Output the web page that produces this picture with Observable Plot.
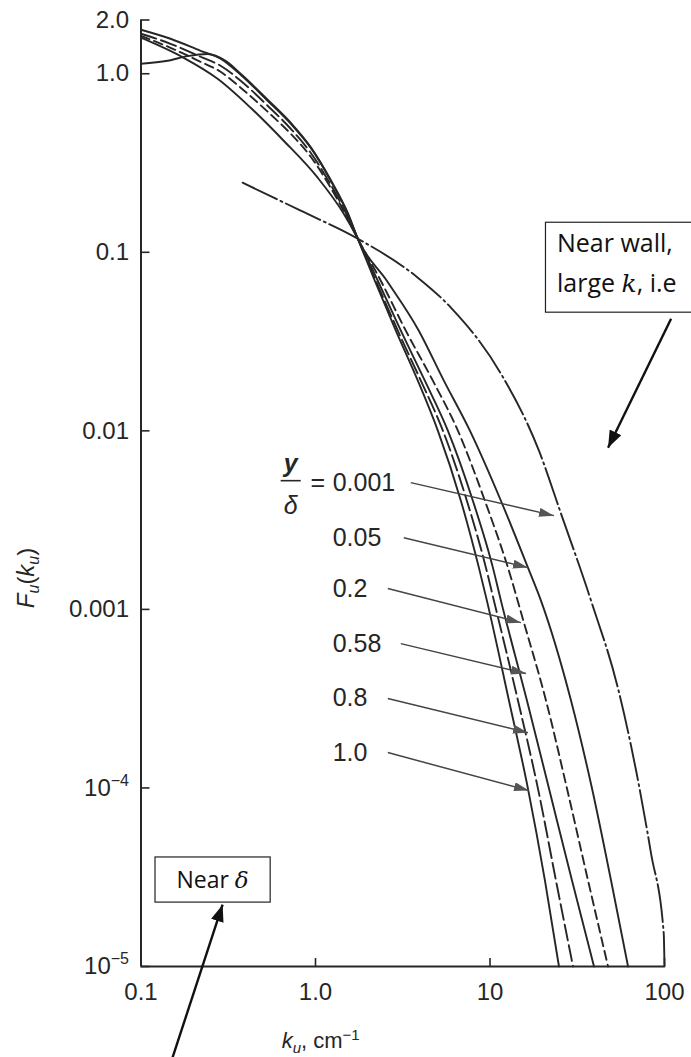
<!DOCTYPE html>
<html>
<head>
<meta charset="utf-8">
<script src="https://cdn.jsdelivr.net/npm/d3@7"></script>
<script src="https://cdn.jsdelivr.net/npm/@observablehq/plot@0.6"></script>
<style>
  body { margin: 0; background: #fff; }
  #chart svg { display: block; }
</style>
</head>
<body>
<div id="chart"></div>
<script>
// One-dimensional spectra F_u(k_u) of the streamwise velocity at several y/δ (log–log)

const xTicks = [0.1, 1, 10, 100];
const xTickLabels = ["0.1", "1.0", "10", "100"];
const yTicks = [2, 1, 0.1, 0.01, 0.001, 1e-4, 1e-5];
const yTickLabels = ["2.0", "1.0", "0.1", "0.01", "0.001", "10^−4", "10^−5"];

// y/δ = 1.0 (solid)
const k_100 = [0.1, 0.1476, 0.2194, 0.2858, 0.3724, 0.5318, 0.7207, 0.9386, 1.2224, 1.5306, 1.7465,
  2.187, 2.886, 3.858, 5.024, 6.809, 8.636, 9.599, 12.84, 16.50, 20.65, 24.85];
const F_100 = [1.764, 1.570, 1.345, 1.213, 0.987, 0.706, 0.525, 0.385, 0.2518, 0.1645, 0.1192,
  0.0693, 0.0364, 0.0191, 0.01003, 0.00406, 0.001714, 0.00112, 3.09e-4, 9.92e-5, 3.03e-5, 1.0e-5];

// y/δ = 0.8 (long dashes)
const k_080 = [0.1, 0.1476, 0.2194, 0.2858, 0.3724, 0.5318, 0.7207, 0.9386, 1.2224, 1.5306, 1.7465,
  2.216, 2.963, 4.014, 5.370, 7.371, 9.474, 10.53, 14.46, 18.83, 23.88, 29.90];
const F_080 = [1.675, 1.472, 1.245, 1.109, 0.914, 0.662, 0.492, 0.361, 0.239, 0.158, 0.1192,
  0.0693, 0.0364, 0.0191, 0.01003, 0.00406, 0.001714, 0.00112, 3.09e-4, 9.92e-5, 3.03e-5, 1.0e-5];

// y/δ = 0.58 (solid)
const k_058 = [0.1, 0.1753, 0.2748, 0.4249, 0.6571, 1.0295, 1.4517, 1.7465,
  2.275, 3.083, 4.232, 5.734, 7.978, 10.39, 11.55, 16.28, 21.78, 29.51, 39.46];
const F_058 = [1.591, 1.229, 0.937, 0.645, 0.4215, 0.2617, 0.1645, 0.1192,
  0.0693, 0.0364, 0.0191, 0.01003, 0.00406, 0.001714, 0.00112, 3.09e-4, 9.92e-5, 3.03e-5, 1.0e-5];

// y/δ = 0.2 (short dashes)
const k_020 = [0.1, 0.1476, 0.2194, 0.2858, 0.3724, 0.5318, 0.7207, 0.9386, 1.2224, 1.5306, 1.7465,
  2.367, 3.292, 4.704, 6.544, 9.348, 12.67, 15.65, 20.93, 27.62, 36.46, 47.48];
const F_020 = [1.632, 1.398, 1.167, 1.026, 0.835, 0.613, 0.4613, 0.343, 0.2300, 0.1542, 0.1192,
  0.0693, 0.0364, 0.0191, 0.01003, 0.00406, 0.001714, 8.43e-4, 3.09e-4, 9.92e-5, 3.03e-5, 1.0e-5];

// y/δ = 0.05 (solid)
const k_005 = [0.1, 0.1419, 0.1848, 0.2407, 0.3053, 0.3724, 0.5318, 0.7207, 0.9386, 1.2224, 1.5306, 1.7465,
  2.563, 3.909, 5.439, 7.669, 11.55, 16.50, 19.59, 29.12, 38.43, 49.40, 61.83];
const F_005 = [1.138, 1.182, 1.255, 1.290, 1.180, 1.000, 0.7160, 0.5320, 0.3880, 0.2540, 0.1660, 0.1192,
  0.0693, 0.0364, 0.0191, 0.01003, 0.00406, 0.001714, 0.00112, 3.09e-4, 9.92e-5, 3.03e-5, 1.0e-5];

// y/δ = 0.001 (dash-dot)
const k_0001 = [0.3823, 0.8226, 1.7465, 3.858, 5.967, 11.55, 19.08, 25.52, 37.93, 54.19, 68.73, 83.77, 99.0, 100];
const F_0001 = [0.2453, 0.171, 0.1192, 0.0721, 0.049, 0.0209, 0.00774, 0.00344, 0.00112, 3.6e-4, 1.252e-4, 4.29e-5, 1.53e-5, 1.0e-5];

// y/δ labels and the arrows from each label to its curve
const labelText = ["0.001", "0.05", "0.2", "0.58", "0.8", "1.0"];
const labelK = [1.255, 1.255, 1.255, 1.255, 1.255, 1.255];
const labelF = [0.00513, 0.00252, 0.001308, 6.43e-4, 3.17e-4, 1.578e-4];
const arrowFromK = [3.517, 3.206, 2.596, 3.083, 2.596, 2.596];
const arrowFromF = [0.00513, 0.00252, 0.001308, 6.43e-4, 3.17e-4, 1.578e-4];
const arrowToK = [23.26, 16.50, 15.04, 16.07, 16.50, 16.72];
const arrowToF = [0.003351, 0.001714, 8.43e-4, 4.37e-4, 2.04e-4, 9.67e-5];

// "y/δ =" fraction
const fracK = 0.7207, fracNumF = 0.00655, fracDenF = 0.003813, fracBarF = 0.00526;
const fracBarK = [0.6314, 0.8226];
const equalsK = 1.0295, equalsF = 0.00513;

// Call-out boxes
const wallBox = {x1: 20.93, x2: 170, y1: 0.0459, y2: 0.1464};
const wallLines = ["Near wall,", "large k, i.e"];
const wallLineK = [24.2, 24.2];
const wallLineF = [0.1117, 0.0667];
const wallArrow = {x1: 109.1, y1: 0.04249, x2: 47.48, y2: 0.00805};

const deltaBox = {x1: 0.1211, x2: 0.5534, y1: 2.28e-5, y2: 4.08e-5};
const deltaText = {x: 0.2572, y: 3.03e-5};
const deltaArrow = {x1: 0.1516, y1: 3.09e-6, x2: 0.2935, y2: 2.22e-5};

const xLabelPos = {x: 1.07, y: 3.85e-6};
const yLabelPos = {x: 0.0220, y: 0.00150};

const series = [
  {name: "1.0", k: k_100, F: F_100, dash: null},
  {name: "0.8", k: k_080, F: F_080, dash: "16,5"},
  {name: "0.58", k: k_058, F: F_058, dash: null},
  {name: "0.2", k: k_020, F: F_020, dash: "9,5"},
  {name: "0.05", k: k_005, F: F_005, dash: null},
  {name: "0.001", k: k_0001, F: F_0001, dash: "38,4,2,4"}
];

const ink = "#262626";
const W = 691, H = 1057;
const mL = 140.5, mR = 27, mT = 19.5, mB = 91;
const innerW = W - mL - mR, innerH = H - mT - mB;
const boxFont = "'Open Sans', Lato, sans-serif";

const lineMarks = series.map(s =>
  Plot.line(s.k.map((k, i) => ({k, F: s.F[i]})), {
    x: "k", y: "F", curve: "monotone-x",
    stroke: ink, strokeWidth: 1.9,
    strokeDasharray: s.dash || undefined
  })
);

const labelRows = labelText.map((t, i) => ({
  t, k: labelK[i], F: labelF[i],
  x1: arrowFromK[i], y1: arrowFromF[i], x2: arrowToK[i], y2: arrowToF[i]
}));

const svg = Plot.plot({
  width: W, height: H,
  marginLeft: mL, marginRight: mR, marginTop: mT, marginBottom: mB,
  style: {background: "#fff", fontFamily: "'Liberation Sans', Arial, sans-serif", color: ink, overflow: "hidden"},
  x: {type: "log", domain: [0.1, 100]},
  y: {type: "log", domain: [1e-5, 2]},
  marks: [
    ...lineMarks,
    // axes
    Plot.ruleX([0.1], {stroke: ink, strokeWidth: 2}),
    Plot.ruleY([1e-5], {stroke: ink, strokeWidth: 2}),
    Plot.tickY(yTicks, {y: d => d, insetRight: innerW - 9, stroke: ink, strokeWidth: 1.6}),
    Plot.tickX(xTicks, {x: d => d, insetTop: innerH - 8, stroke: ink, strokeWidth: 1.6}),
    Plot.axisY({ticks: yTicks, tickSize: 0, tickPadding: 12, fontSize: 24, label: null,
      tickFormat: d => yTickLabels[yTicks.indexOf(d)]}),
    Plot.axisX({ticks: xTicks, tickSize: 0, tickPadding: 16, fontSize: 24, label: null,
      tickFormat: d => xTickLabels[xTicks.indexOf(d)]}),
    // axis titles
    Plot.text([xLabelPos], {x: "x", y: "y", text: () => "k_u, cm^-1", fontSize: 22, fill: ink}),
    Plot.text([yLabelPos], {x: "x", y: "y", text: () => "F_u(k_u)", fontSize: 24, rotate: -90, fill: ink}),
    // y/δ labels with arrows
    Plot.link(labelRows, {x1: "x1", y1: "y1", x2: "x2", y2: "y2", stroke: "#444", strokeWidth: 1.5,
      ariaLabel: () => "label-arrow"}),
    Plot.text(labelRows, {x: "k", y: "F", text: "t", textAnchor: "start", fontSize: 25, fill: ink}),
    Plot.text([{x: fracK, y: fracNumF}], {x: "x", y: "y", text: () => "y", fontSize: 25, fontStyle: "italic", fontWeight: "bold", fill: ink}),
    Plot.text([{x: fracK, y: fracDenF}], {x: "x", y: "y", text: () => "δ", fontSize: 25, fontStyle: "italic", fill: ink}),
    Plot.link([{x1: fracBarK[0], x2: fracBarK[1], y: fracBarF}], {x1: "x1", x2: "x2", y1: "y", y2: "y", stroke: ink, strokeWidth: 1.6}),
    Plot.text([{x: equalsK, y: equalsF}], {x: "x", y: "y", text: () => "=", fontSize: 25, fill: ink}),
    // call-out boxes
    Plot.rect([wallBox], {x1: "x1", x2: "x2", y1: "y1", y2: "y2", fill: "#fff", stroke: "#222", strokeWidth: 1.2}),
    Plot.text(wallLines.map((t, i) => ({t, x: wallLineK[i], y: wallLineF[i]})), {x: "x", y: "y", text: "t", textAnchor: "start",
      fontSize: 25, fontFamily: boxFont, fill: "#111"}),
    Plot.link([wallArrow], {x1: "x1", y1: "y1", x2: "x2", y2: "y2", stroke: "#111", strokeWidth: 2.4,
      ariaLabel: () => "callout-arrow"}),
    Plot.rect([deltaBox], {x1: "x1", x2: "x2", y1: "y1", y2: "y2", fill: "#fff", stroke: "#222", strokeWidth: 1.2}),
    Plot.text([deltaText], {x: "x", y: "y", text: () => "Near δ", fontSize: 23, fontFamily: boxFont, fill: "#111"}),
    Plot.link([deltaArrow], {x1: "x1", y1: "y1", x2: "x2", y2: "y2", stroke: "#111", strokeWidth: 2.4,
      ariaLabel: () => "callout-arrow"})
  ]
});

// Filled arrowheads for the annotation links
const defs = d3.select(svg).insert("defs", ":first-child");
function head(id, color, len, wid) {
  defs.append("marker")
    .attr("id", id).attr("markerUnits", "userSpaceOnUse")
    .attr("viewBox", `0 0 ${len} ${wid}`)
    .attr("markerWidth", len).attr("markerHeight", wid)
    .attr("refX", len).attr("refY", wid / 2).attr("orient", "auto")
    .append("path").attr("d", `M0,0L${len},${wid / 2}L0,${wid}Z`).attr("fill", color).attr("stroke", "none");
}
head("head-label", "#555", 15, 9);
head("head-callout", "#111", 17, 13);
d3.select(svg).selectAll('path[aria-label="label-arrow"], g[stroke="#444"] path')
  .attr("marker-end", "url(#head-label)");
d3.select(svg).selectAll('path[aria-label="callout-arrow"], g[stroke="#111"] path')
  .attr("marker-end", "url(#head-callout)");

// Sub/superscripts and italic symbols
function rich(el, parts) {
  const t = d3.select(el);
  t.text(null);
  for (const p of parts) {
    const s = t.append("tspan").text(p.t);
    if (p.italic) s.attr("font-style", "italic");
    if (p.family) s.attr("font-family", p.family);
    if (p.size) s.attr("font-size", p.size);
    if (p.dy) s.attr("dy", p.dy);
  }
}
d3.select(svg).selectAll("text").each(function () {
  const s = this.textContent;
  if (s.startsWith("10^")) {
    rich(this, [{t: "10"}, {t: s.slice(3), size: 16, dy: -10}]);
  } else if (s === "k_u, cm^-1") {
    rich(this, [{t: "k", italic: true}, {t: "u", italic: true, size: 15, dy: 5},
      {t: ", cm", dy: -5}, {t: "−1", size: 15, dy: -8}]);
  } else if (s === "F_u(k_u)") {
    rich(this, [{t: "F", italic: true}, {t: "u", italic: true, size: 16, dy: 5},
      {t: "(", dy: -5}, {t: "k", italic: true}, {t: "u", italic: true, size: 16, dy: 5}, {t: ")", dy: -5}]);
  } else if (s === "large k, i.e") {
    rich(this, [{t: "large "}, {t: "k", italic: true, family: "'DejaVu Serif', serif"}, {t: ", i.e"}]);
  } else if (s === "Near δ") {
    rich(this, [{t: "Near "}, {t: "δ", italic: true, family: "'DejaVu Serif', serif"}]);
  }
});

document.getElementById("chart").append(svg);
</script>
</body>
</html>
